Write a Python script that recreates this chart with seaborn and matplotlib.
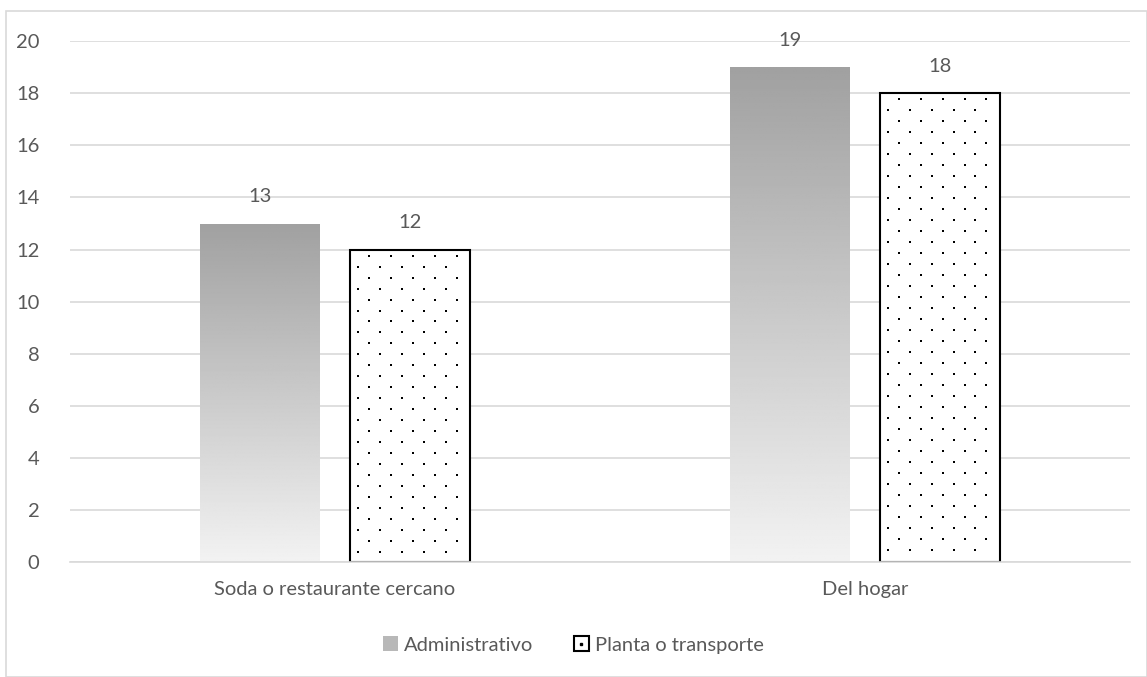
import numpy as np
import pandas as pd
import matplotlib
import matplotlib.pyplot as plt
import seaborn as sns
from matplotlib.patches import Rectangle, Patch
from matplotlib.lines import Line2D
from matplotlib.legend_handler import HandlerTuple

categorias = ["Soda o restaurante cercano", "Del hogar"]
grupos = ["Administrativo", "Planta o transporte"]
administrativo = [13, 19]
planta = [12, 18]
yticks = list(range(0, 21, 2))

df = pd.DataFrame({
    "categoria": categorias * 2,
    "grupo": [grupos[0]] * 2 + [grupos[1]] * 2,
    "valor": administrativo + planta,
})

sns.set_theme(style="white")
plt.rcParams["font.family"] = ["Lato", "DejaVu Sans"]
texto = "#595959"
fs = 14.5

fig = plt.figure(figsize=(11.47, 6.77), dpi=100)
ax = fig.add_axes([0.061, 0.170, 0.924, 0.769])
fig.patches.append(Rectangle((6 / 1147, 0), 1 - 6 / 1147, 1 - 11 / 677, transform=fig.transFigure,
                             fill=False, edgecolor="#d9d9d9", linewidth=1.2))

sns.barplot(data=df, x="categoria", y="valor", hue="grupo", ax=ax,
            width=0.566, gap=0.2, legend=False, palette=["#ffffff", "#ffffff"])

ax.set_ylim(0, 20)
ax.set_xlim(-0.5, 1.5)

# espaciado de la trama de puntos (en unidades de datos)
dx, dy = 0.0415, 0.422
barras = ax.patches
grad = np.linspace(0.95, 0.63, 256).reshape(-1, 1)
for i, b in enumerate(list(barras)):
    x0, w, h = b.get_x(), b.get_width(), b.get_height()
    if i < 2:
        b.set_edgecolor("none")
        im = ax.imshow(grad, cmap="gray", vmin=0, vmax=1, aspect="auto",
                       extent=(x0, x0 + w, 0, h), origin="lower", zorder=2)
        im.set_clip_path(b)
    else:
        b.set_facecolor("white")
        b.set_edgecolor("black")
        b.set_linewidth(1.5)
        b.set_zorder(2)
        px, py = [], []
        fila = 0
        y = h - dy * 0.55
        while y > 0.05:
            off = dx * 0.5 if fila % 2 == 0 else 0.0
            x = x0 + dx * 0.35 + off
            while x < x0 + w - dx * 0.15:
                px.append(x)
                py.append(y)
                x += dx
            y -= dy
            fila += 1
        ax.scatter(px, py, s=2.2, marker="s", color="black", linewidths=0, zorder=3)
    ax.text(x0 + w / 2, h + 0.7, f"{int(h)}",
            ha="center", va="bottom", fontsize=fs, color=texto)

ax.set_ylim(0, 20)
ax.set_xlim(-0.5, 1.5)
ax.set_yticks(yticks)
ax.yaxis.grid(True, color="#d9d9d9", linewidth=1.2)
ax.set_axisbelow(True)
for s in ["top", "right", "left"]:
    ax.spines[s].set_visible(False)
ax.spines["bottom"].set_color("#d9d9d9")
ax.spines["bottom"].set_linewidth(1.2)
ax.tick_params(axis="both", length=0, labelsize=fs, labelcolor=texto, pad=14)
ax.tick_params(axis="y", pad=22)
ax.set_xlabel("")
ax.set_ylabel("")

grad_handle = Patch(facecolor="#b8b8b8", edgecolor="none")
caja = Patch(facecolor="white", edgecolor="black", linewidth=1.5)
punto = Line2D([], [], marker="s", markersize=2, color="black", linestyle="none")
fig.legend([grad_handle, (caja, punto)], grupos, loc="center", bbox_to_anchor=(0.5, 0.047),
           ncol=2, frameon=False, fontsize=fs, labelcolor=texto, handlelength=0.75,
           handleheight=0.75, handletextpad=0.3, columnspacing=2.0,
           handler_map={tuple: HandlerTuple(ndivide=1, pad=0)})

fig.savefig("out.png", dpi=100)
